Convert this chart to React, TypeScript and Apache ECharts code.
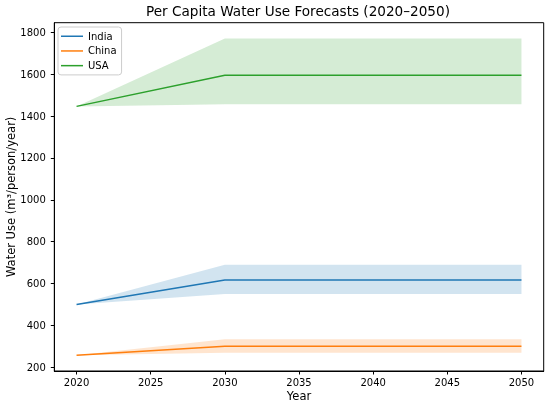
import React, { useEffect, useRef } from "react";
import * as echarts from "echarts";

const years = [2020, 2030, 2040, 2050];
const indiaValues = [500, 617, 617, 617];
const indiaLower = [500, 550, 550, 550];
const indiaUpper = [500, 690, 690, 690];
const chinaValues = [258, 300, 300, 300];
const chinaLower = [258, 270, 270, 270];
const chinaUpper = [258, 334, 334, 334];
const usaValues = [1446, 1595, 1595, 1595];
const usaLower = [1446, 1456, 1456, 1456];
const usaUpper = [1446, 1770, 1770, 1770];
const xTicks = [2020, 2025, 2030, 2035, 2040, 2045, 2050];
const yTicks = [200, 400, 600, 800, 1000, 1200, 1400, 1600, 1800];

const FONT = "DejaVu Sans";

function pairs(ys: number[]) {
  return years.map((x, i) => [x, ys[i]]);
}

function country(name: string, color: string, vals: number[], lo: number[], hi: number[]) {
  const bandData = years.map((x, i) => [x, lo[i], hi[i]]);
  return [
    {
      name: name + " band",
      type: "custom",
      data: bandData,
      silent: true,
      z: 1,
      renderItem: (params: any, api: any) => {
        if (params.dataIndex !== 0) return null;
        const lowerPts = bandData.map((d) => api.coord([d[0], d[1]]));
        const upperPts = bandData.map((d) => api.coord([d[0], d[2]])).reverse();
        return {
          type: "polygon",
          shape: { points: lowerPts.concat(upperPts) },
          style: { fill: color, opacity: 0.2, stroke: "none" },
        };
      },
    },
    {
      name,
      type: "line",
      data: pairs(vals),
      symbol: "none",
      color,
      lineStyle: { color, width: 1.5 },
      z: 3,
    },
  ];
}

export default function App() {
  const ref = useRef<HTMLDivElement>(null);
  useEffect(() => {
    if (!ref.current) return;
    const chart = echarts.init(ref.current, undefined, { renderer: "svg" });
    const allLo = Math.min(...indiaValues, ...chinaValues, ...usaValues, ...indiaLower, ...chinaLower, ...usaLower);
    const allHi = Math.max(...indiaUpper, ...chinaUpper, ...usaUpper);
    const pad = (allHi - allLo) * 0.05;
    const xPad = (years[years.length - 1] - years[0]) * 0.05;
    const fmt = (v: number) => String(v);
    chart.setOption({
      animation: false,
      textStyle: { fontFamily: FONT },
      title: {
        text: "Per Capita Water Use Forecasts (2020–2050)",
        left: 298,
        textAlign: "center",
        top: 4,
        padding: 0,
        textStyle: { fontFamily: FONT, fontSize: 13.6, fontWeight: "normal", color: "#000" },
      },
      legend: {
        data: ["India", "China", "USA"].map((n) => ({ name: n, icon: "rect" })),
        orient: "vertical",
        left: 58,
        top: 27,
        padding: [4, 5, 4, 3],
        itemGap: 4.2,
        itemWidth: 22,
        itemHeight: 1.5,
        backgroundColor: "rgba(255,255,255,0.8)",
        borderColor: "#cccccc",
        borderWidth: 1,
        borderRadius: 3,
        textStyle: { fontFamily: FONT, fontSize: 10, color: "#000", lineHeight: 10.5 },
      },
      grid: {
        left: 54.3,
        right: 6.3,
        top: 22.7,
        bottom: 38,
        containLabel: false,
        outerBoundsMode: "none",
        show: true,
        borderColor: "#000",
        borderWidth: 1,
        backgroundColor: "transparent",
      },
      xAxis: {
        type: "value",
        min: years[0] - xPad,
        max: years[years.length - 1] + xPad,
        name: "Year",
        nameLocation: "middle",
        nameGap: 19,
        nameMoveOverlap: false,
        nameTextStyle: { fontFamily: FONT, fontSize: 11.5, color: "#000" },
        axisLine: { show: true, lineStyle: { color: "#000", width: 1 } },
        axisTick: { show: true, length: 3.5, lineStyle: { color: "#000" }, customValues: xTicks },
        axisLabel: { fontFamily: FONT, fontSize: 10, color: "#000", margin: 6, customValues: xTicks, formatter: fmt },
        splitLine: { show: false },
      },
      yAxis: {
        type: "value",
        min: allLo - pad,
        max: allHi + pad,
        name: "Water Use (m³/person/year)",
        nameLocation: "middle",
        nameGap: 37,
        nameMoveOverlap: false,
        nameTextStyle: { fontFamily: FONT, fontSize: 11.5, color: "#000" },
        axisLine: { show: true, lineStyle: { color: "#000", width: 1 } },
        axisTick: { show: true, length: 3.5, lineStyle: { color: "#000" }, customValues: yTicks },
        axisLabel: { fontFamily: FONT, fontSize: 10, color: "#000", margin: 8.5, customValues: yTicks, formatter: fmt },
        splitLine: { show: false },
      },
      series: [
        ...country("India", "#1f77b4", indiaValues, indiaLower, indiaUpper),
        ...country("China", "#ff7f0e", chinaValues, chinaLower, chinaUpper),
        ...country("USA", "#2ca02c", usaValues, usaLower, usaUpper),
      ],
    });
    return () => chart.dispose();
  }, []);
  return <div ref={ref} style={{ position: "fixed", left: 0, top: 0, width: 550, height: 409 }} />;
}
